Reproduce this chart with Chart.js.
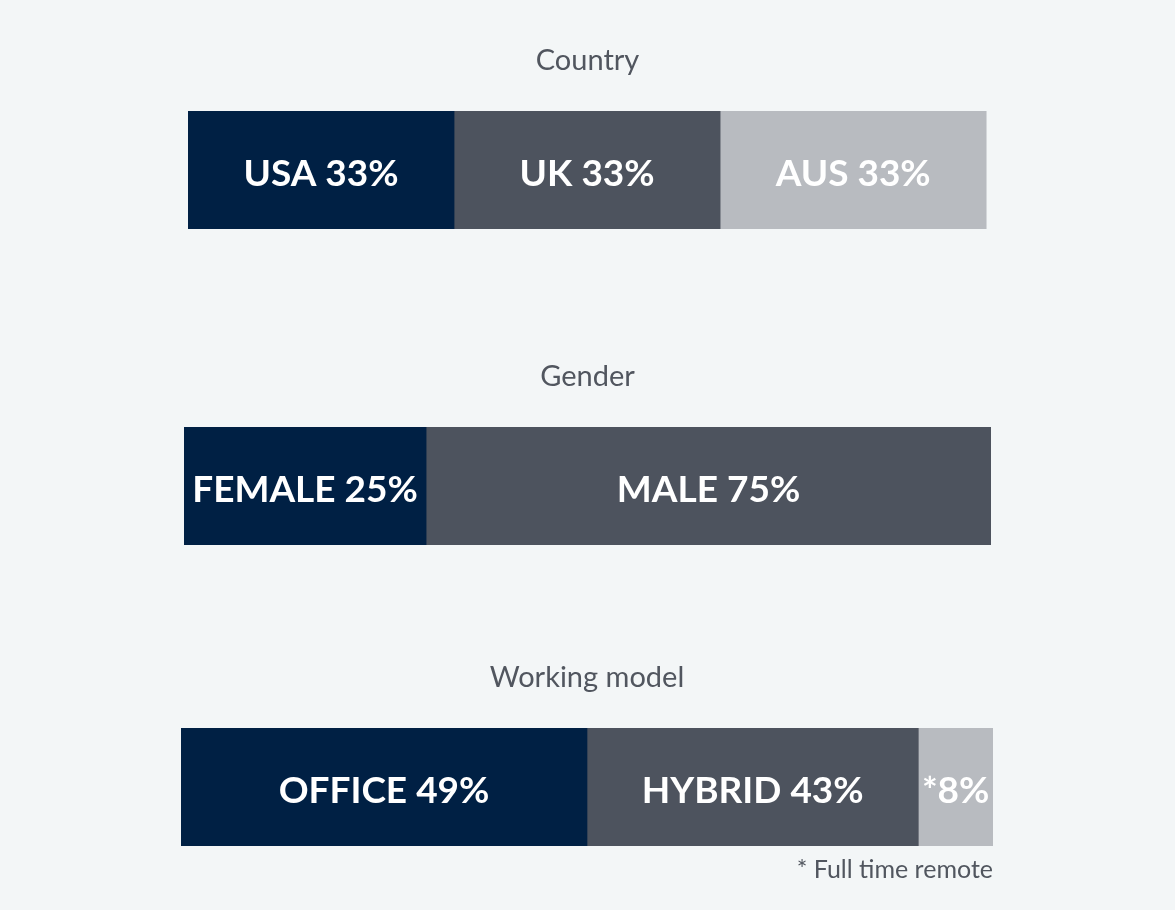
<!DOCTYPE html>
<html>
<head>
<meta charset="utf-8">
<script src="https://cdn.jsdelivr.net/npm/chart.js@4/dist/chart.umd.min.js"></script>
<style>
    html, body { margin: 0; padding: 0; background: #f3f6f7; }
    body { width: 1175px; height: 910px; position: relative; overflow: hidden; }
    canvas { position: absolute; left: 0; }
</style>
</head>
<body>
<canvas id="chart-country"  width="1175" height="184" style="top:45px"></canvas>
<canvas id="chart-gender"   width="1175" height="184" style="top:361px"></canvas>
<canvas id="chart-working"  width="1175" height="222" style="top:662px"></canvas>
<script>
// Country
const countryNames  = ['USA 33%', 'UK 33%', 'AUS 33%'];
const countryValues = [33.3, 33.3, 33.3];

// Gender (bar widths as drawn in the picture)
const genderNames  = ['FEMALE 25%', 'MALE 75%'];
const genderValues = [30, 70];

// Working model
const workNames  = ['OFFICE 49%', 'HYBRID 43%', '*8%'];
const workValues = [50, 40.8, 9.2];

const colors    = ['#002044', '#4d535e', '#b8bbc0'];
const textColor = '#51565f';
const FONT      = 'Lato, "Open Sans", sans-serif';

// draws the segment label in the middle of each stacked piece
const segmentLabels = {
    id: 'segmentLabels',
    afterDatasetsDraw(chart) {
        const ctx = chart.ctx;
        ctx.save();
        ctx.font = `bold 37px ${FONT}`;
        ctx.fillStyle = '#ffffff';
        ctx.textAlign = 'center';
        ctx.textBaseline = 'middle';
        chart.data.datasets.forEach((ds, i) => {
            const bar = chart.getDatasetMeta(i).data[0];
            if (!bar) return;
            ctx.fillText(ds.label, (bar.x + bar.base) / 2, bar.y + 4);
        });
        ctx.restore();
    },
};

function stackedBar(id, title, names, values, pad, note) {
    const datasets = names.map((n, i) => ({
        label:           n,
        data:            [values[i]],
        backgroundColor: colors[i],
        borderWidth:     0,
        barPercentage:   1,
        categoryPercentage: 1,
    }));

    return new Chart(document.getElementById(id), {
        type: 'bar',
        data: { labels: [title], datasets },
        plugins: [segmentLabels],
        options: {
            indexAxis:  'y',
            responsive: false,
            animation:  false,
            layout:     { padding: { left: pad[0], right: pad[1], top: 0, bottom: 0 } },
            plugins: {
                legend:  { display: false },
                tooltip: { enabled: false },
                title: {
                    display: true,
                    text:    title,
                    color:   textColor,
                    font:    { family: FONT, size: 29, weight: 'normal', lineHeight: '32px' },
                    padding: { top: 0, bottom: 34 },
                },
                subtitle: {
                    display:  !!note,
                    text:     note || '',
                    position: 'bottom',
                    align:    'end',
                    color:    textColor,
                    font:     { family: FONT, size: 25, weight: 'normal', lineHeight: '28px' },
                    padding:  { top: 10, bottom: 0 },
                },
            },
            scales: {
                x: { stacked: true, display: false, min: 0, max: 100 },
                y: { stacked: true, display: false },
            },
        },
    });
}

stackedBar('chart-country', 'Country',       countryNames, countryValues, [188, 188]);
stackedBar('chart-gender',  'Gender',        genderNames,  genderValues,  [184, 184]);
stackedBar('chart-working', 'Working model', workNames,    workValues,    [181, 182], '* Full time remote');
</script>
</body>
</html>
